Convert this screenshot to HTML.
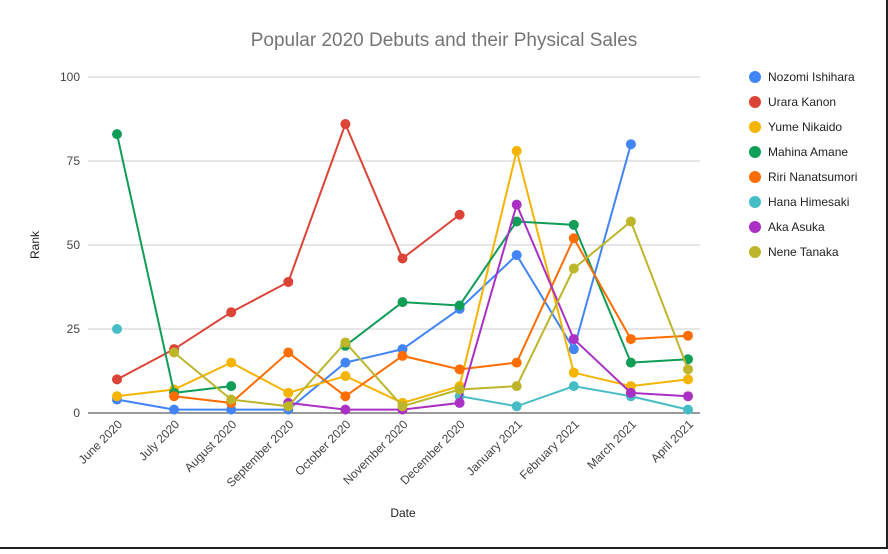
<!DOCTYPE html>
<html><head><meta charset="utf-8"><style>
body{margin:0;background:#fff;font-family:"Liberation Sans",sans-serif;}
svg text{font-family:"Liberation Sans",sans-serif;}
</style></head><body>
<svg id="chart" width="888" height="549" xmlns="http://www.w3.org/2000/svg">
<rect width="888" height="549" fill="#fff"/>
<line x1="887" y1="0" x2="887" y2="549" stroke="#222" stroke-width="2"/>
<line x1="0" y1="548" x2="888" y2="548" stroke="#222" stroke-width="2"/>
<text x="444" y="46" text-anchor="middle" font-size="19" fill="#757575">Popular 2020 Debuts and their Physical Sales</text>
<g id="grid"></g><g id="series"></g><g id="legend"></g>
<text transform="translate(39,245) rotate(-90)" text-anchor="middle" font-size="12" fill="#222">Rank</text>
<text x="403" y="517" text-anchor="middle" font-size="12" fill="#222">Date</text>
</svg>
<script>
const categories=["June 2020","July 2020","August 2020","September 2020","October 2020","November 2020","December 2020","January 2021","February 2021","March 2021","April 2021"];
const yTicks=[0,25,50,75,100];
const seriesNames=["Nozomi Ishihara","Urara Kanon","Yume Nikaido","Mahina Amane","Riri Nanatsumori","Hana Himesaki","Aka Asuka","Nene Tanaka"];
const seriesColors=["#4285f4","#db4437","#f4b400","#0f9d58","#ff6d01","#46bdc6","#ab30c4","#bdb52a"];
const nozomi=[4,1,1,1,15,19,31,47,19,80,null];
const urara=[10,19,30,39,86,46,59,null,null,null,null];
const yume=[5,7,15,6,11,3,8,78,12,8,10];
const mahina=[83,6,8,null,20,33,32,57,56,15,16];
const riri=[null,5,3,18,5,17,13,15,52,22,23];
const hana=[25,null,null,null,null,null,5,2,8,5,1];
const aka=[null,null,null,3,1,1,3,62,22,6,5];
const nene=[null,18,4,2,21,2,7,8,43,57,13];
const allSeries=[nozomi,urara,yume,mahina,riri,hana,aka,nene];
const NS="http://www.w3.org/2000/svg";
const x0=117,x1=688,yTop=77,yBot=413,plotL=88,plotR=700;
function xs(i){return x0+(x1-x0)*i/(categories.length-1);}
function ys(v){return yBot-(yBot-yTop)*v/100;}
function mk(t,a,p){const e=document.createElementNS(NS,t);for(const k in a)e.setAttribute(k,a[k]);p.appendChild(e);return e;}
const grid=document.getElementById('grid');
yTicks.forEach(t=>{
 const l=mk('line',{x1:plotL,x2:plotR,y1:ys(t),y2:ys(t),stroke:t===0?'#333':'#ccc','stroke-width':1},grid);
 
 
 const tx=mk('text',{x:80,y:ys(t)+4,'text-anchor':'end','font-size':12,fill:'#444'},grid);
 tx.textContent=t;
 
 
});
categories.forEach((c,i)=>{
 const tx=mk('text',{transform:`translate(${xs(i)+6},${yBot+12}) rotate(-45)`,'text-anchor':'end','font-size':12,fill:'#444'},grid);
 tx.textContent=c;
 
 
});
const sg=document.getElementById('series');
allSeries.forEach((s,k)=>{
 const g=mk('g',{},sg);
 
 
 let d='',pen=false;
 s.forEach((v,i)=>{if(v===null){pen=false;return;}d+=(pen?'L':'M')+xs(i)+','+ys(v);pen=true;});
 mk('path',{d:d,fill:'none',stroke:seriesColors[k],'stroke-width':2},g);
 s.forEach((v,i)=>{if(v===null)return;
  const c=mk('circle',{cx:xs(i),cy:ys(v),r:5,fill:seriesColors[k]},g);
  
  
 });
});
const lg=document.getElementById('legend');
seriesNames.forEach((n,k)=>{
 const y=77+k*25;
 const g=mk('g',{},lg);
 
 
 mk('circle',{cx:755,cy:y,r:6,fill:seriesColors[k]},g);
 const t=mk('text',{x:768,y:y+4,'font-size':12,fill:'#222'},g);
 t.textContent=n;
});
</script>
</body></html>
